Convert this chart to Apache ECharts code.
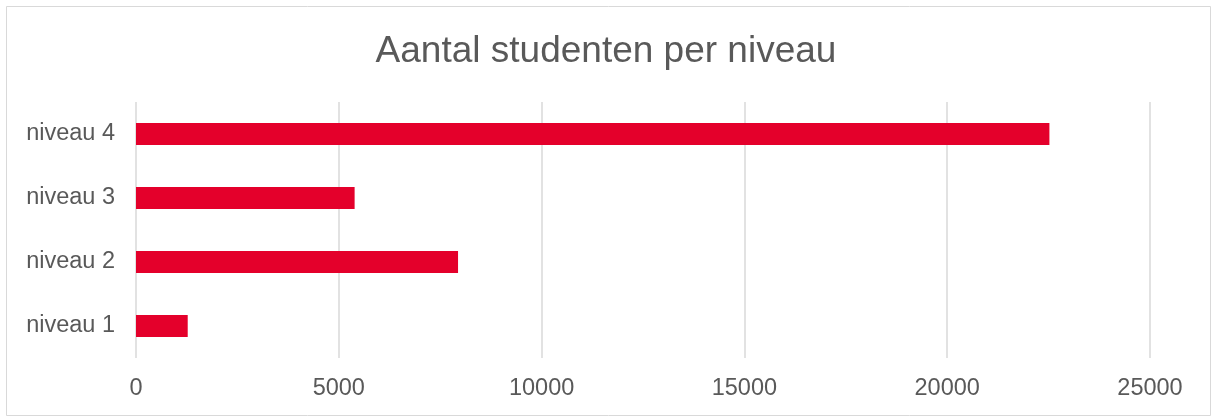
<!DOCTYPE html>
<html>
<head>
<meta charset="utf-8">
<script src="https://cdn.jsdelivr.net/npm/echarts@6/dist/echarts.min.js"></script>
<style>
  html, body { margin: 0; padding: 0; background: #ffffff; }
  #chart { width: 1212px; height: 417px; }
</style>
</head>
<body>
<div id="chart"></div>
<script>
// Student counts per level
const levels = ['niveau 1', 'niveau 2', 'niveau 3', 'niveau 4'];
const students = [1275, 7940, 5390, 22520];
const axisMax = 25000;
const axisStep = 5000;

const textColor = '#595959';
const lineColor = '#d9d9d9';
const barColor = '#e4002b';
const fontFamily = '"Liberation Sans", Arial, sans-serif';

const chart = echarts.init(document.getElementById('chart'), null, { renderer: 'canvas' });

chart.setOption({
  animation: false,
  backgroundColor: '#ffffff',
  title: {
    text: 'Aantal studenten per niveau',
    left: 'center',
    top: 33,
    padding: 0,
    textStyle: {
      color: textColor,
      fontSize: 37,
      fontWeight: 'normal',
      fontFamily: fontFamily
    }
  },
  graphic: [{
    type: 'rect',
    shape: { x: 6.5, y: 6.5, width: 1204, height: 409 },
    style: { fill: 'none', stroke: lineColor, lineWidth: 1 },
    silent: true,
    z: -1
  }],
  grid: {
    left: 136,
    right: 62,
    top: 102,
    bottom: 59,
    containLabel: false
  },
  xAxis: {
    type: 'value',
    min: 0,
    max: axisMax,
    interval: axisStep,
    axisLine: { show: false },
    axisTick: { show: false },
    axisLabel: {
      color: textColor,
      fontSize: 23.5,
      fontFamily: fontFamily,
      margin: 19,
      formatter: (v) => String(v)
    },
    splitLine: { show: true, lineStyle: { color: lineColor, width: 1.5 } }
  },
  yAxis: {
    type: 'category',
    data: levels,
    axisLine: { show: false },
    axisTick: { show: false },
    axisLabel: {
      color: textColor,
      fontSize: 23.5,
      fontFamily: fontFamily,
      margin: 21
    },
    splitLine: { show: false }
  },
  series: [{
    type: 'bar',
    data: students,
    barWidth: 22,
    itemStyle: { color: barColor }
  }]
});
</script>
</body>
</html>
